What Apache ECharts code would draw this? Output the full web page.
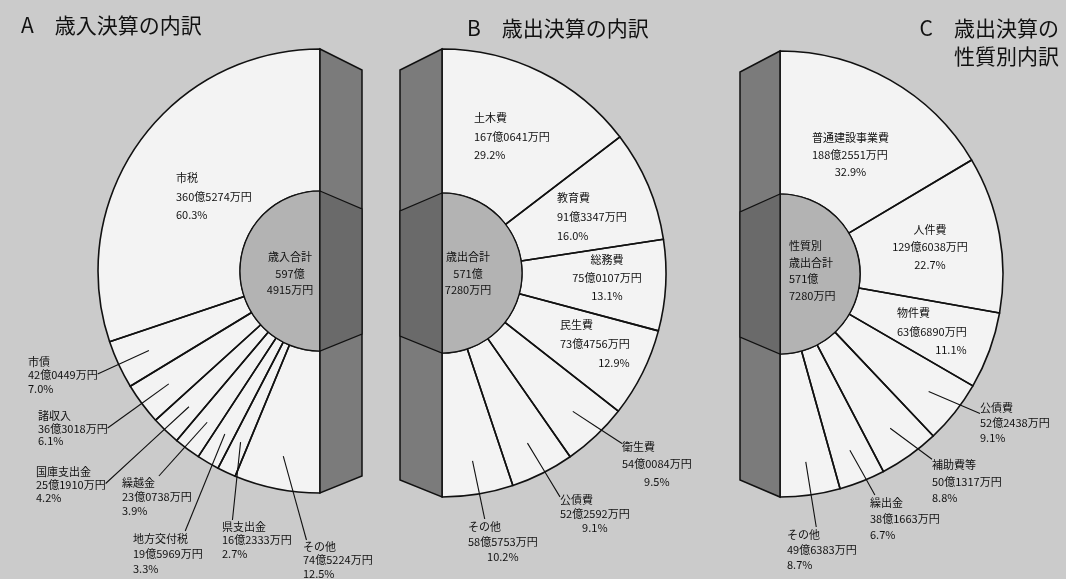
<!DOCTYPE html>
<html>
<head>
<meta charset="utf-8">
<title>決算の内訳</title>
<script src="https://cdn.jsdelivr.net/npm/echarts@6.0.0/dist/echarts.min.js"></script>
<style>
    html, body { margin: 0; padding: 0; background: #cbcbcb; }
    #main { width: 1066px; height: 579px; }
</style>
</head>
<body>
<div id="main"></div>
<script>
var FONT = '"Noto Sans CJK JP", "Noto Sans", sans-serif';

// A 歳入決算 (単位: 万円)
var titleA = 'A\u3000歳入決算の内訳';
var innerA = '歳入合計';
var namesA = ['市税', '市債', '諸収入', '国庫支出金', '繰越金', '地方交付税', '県支出金', 'その他'];
var valuesA = [3605274, 420449, 363018, 251910, 230738, 195969, 162333, 745224];
var pctA = ['60.3', '7.0', '6.1', '4.2', '3.9', '3.3', '2.7', '12.5'];
var totalA = 5974915;

// B 歳出決算
var titleB = 'B\u3000歳出決算の内訳';
var innerB = '歳出合計';
var namesB = ['土木費', '教育費', '総務費', '民生費', '衛生費', '公債費', 'その他'];
var valuesB = [1670641, 913347, 750107, 734756, 540084, 522592, 585753];
var pctB = ['29.2', '16.0', '13.1', '12.9', '9.5', '9.1', '10.2'];
var totalB = 5717280;

// C 歳出決算の性質別
var titleC = 'C\u3000歳出決算の\n性質別内訳';
var innerC = '性質別\n歳出合計';
var namesC = ['普通建設事業費', '人件費', '物件費', '公債費', '補助費等', '繰出金', 'その他'];
var valuesC = [1882551, 1296038, 636890, 522438, 501317, 381663, 496383];
var pctC = ['32.9', '22.7', '11.1', '9.1', '8.8', '6.7', '8.7'];
var totalC = 5717280;

// 図の位置: 中心, 外半径, 内半径, 側面の幅
var boxA = {cx: 320, cy: 271, R: 222, r: 80, d: 42};
var boxB = {cx: 442, cy: 273, R: 224, r: 80, d: -42};
var boxC = {cx: 780, cy: 274, R: 223, r: 80, d: -40};

// ラベル配置: x, y(上端), align, 行ごとの揃え, 行高, 引出線の終点(割合)
var layA = [
    [176, 169, 'left', 'lll', 18.5],
    [28, 355, 'left', 'lll', 13.5, 1, 0.5],
    [38, 410, 'left', 'lll', 12.5, 1, 0.5],
    [36, 465, 'left', 'lll', 13, 1, 0.5],
    [122, 476, 'left', 'lll', 14, 0.53, 0],
    [133, 531, 'left', 'lll', 15, 0.75, 0],
    [222, 520, 'left', 'lll', 13.5, 0.15, 0],
    [303, 540, 'left', 'lll', 13.5, 0.05, 0]
];
var layB = [
    [474, 109, 'left', 'lll', 18.5],
    [557, 188, 'left', 'lll', 19],
    [607, 251, 'center', 'ccc', 18],
    [560, 315, 'left', 'llr', 19],
    [622, 438, 'left', 'llc', 17.5, 0, 0.12],
    [560, 493, 'left', 'llc', 14, 0, 0.1],
    [468, 519, 'left', 'llc', 15, 0.24, 0]
];
var layC = [
    [812, 129, 'left', 'llc', 17],
    [930, 221, 'center', 'ccc', 17.5],
    [897, 304, 'left', 'llr', 18.5],
    [980, 400, 'left', 'lll', 15, 0, 0.33],
    [932, 457, 'left', 'lll', 16.5, 0, 0.05],
    [870, 495, 'left', 'lll', 16, 0.07, 0],
    [787, 527, 'left', 'lll', 15, 0.42, 0]
];
var layInA = [290, 249, 'center', 'ccc', 16.5];
var layInB = [468, 249, 'center', 'ccc', 16.5];
var layInC = [789, 238, 'left', 'llll', 16.5];

function yen(v) {
    var man = String(v % 10000);
    while (man.length < 4) man = '0' + man;
    return [Math.floor(v / 10000) + '億', man + '万円'];
}

function tagText(lines, codes) {
    return lines.map(function (t, i) {
        return '{' + codes.charAt(i) + '|' + t + '}';
    }).join('\n');
}

function richStyle(lh) {
    var base = {fontSize: 11, fontFamily: FONT, color: '#111', lineHeight: lh};
    return {
        l: Object.assign({align: 'left'}, base),
        c: Object.assign({align: 'center'}, base),
        r: Object.assign({align: 'right'}, base)
    };
}

function placeLabel(box, lay) {
    return function (p) {
        var L = lay[p.dataIndex];
        var w = p.labelRect.width, h = p.labelRect.height;
        var res = {x: L[0], y: L[1], align: L[2], verticalAlign: 'top'};
        if (L.length > 5 && p.labelLinePoints) {
            // 引出線は扇形の内側から始める
            var s = p.labelLinePoints[0];
            var dx = s[0] - box.cx, dy = s[1] - box.cy;
            var k = box.R * 0.85 / Math.sqrt(dx * dx + dy * dy);
            var start = [box.cx + dx * k, box.cy + dy * k];
            var x0 = L[2] === 'left' ? L[0] : (L[2] === 'center' ? L[0] - w / 2 : L[0] - w);
            var end = [x0 + L[5] * w, L[1] + L[6] * h];
            res.labelLinePoints = [start, [(start[0] + end[0]) / 2, (start[1] + end[1]) / 2], end];
        }
        return res;
    };
}

function pieBase(box, radius, left) {
    return {
        type: 'pie',
        center: [box.cx, box.cy],
        radius: radius,
        startAngle: 90,
        endAngle: left ? 270 : -90,
        clockwise: !left,
        avoidLabelOverlap: false,
        animation: false,
        silent: true
    };
}

// 下地 (塗りだけ) と 枠線+ラベル の2層にして、引出線を扇形の上に出す
function outerPies(box, names, values, pcts, lay, left) {
    var fill = Object.assign(pieBase(box, [box.r, box.R], left), {
        z: 1,
        itemStyle: {color: '#f3f3f3', borderWidth: 0},
        label: {show: false},
        labelLine: {show: false},
        data: names.map(function (n, i) { return {name: n, value: values[i]}; })
    });
    var data = names.map(function (n, i) {
        var L = lay[i];
        var y = yen(values[i]);
        return {
            name: n,
            value: values[i],
            label: {
                formatter: tagText([n, y[0] + y[1], pcts[i] + '%'], L[3]),
                rich: richStyle(L[4])
            },
            labelLine: {show: L.length > 5}
        };
    });
    var lines = Object.assign(pieBase(box, [box.r, box.R], left), {
        z: 2,
        itemStyle: {color: 'rgba(0,0,0,0)', borderColor: '#111', borderWidth: 1.6},
        label: {position: 'outside', fontSize: 11, fontFamily: FONT, color: '#111'},
        labelLine: {show: true, length: 8, length2: 8, lineStyle: {color: '#111', width: 1.1}},
        labelLayout: placeLabel(box, lay),
        data: data
    });
    return [fill, lines];
}

function innerPie(box, name, total, lay, left) {
    var y = yen(total);
    var lines = name.split('\n').concat(y);
    return Object.assign(pieBase(box, [0, box.r], left), {
        z: 3,
        itemStyle: {color: '#b3b3b3', borderColor: '#111', borderWidth: 1.2},
        label: {
            position: 'inside',
            formatter: tagText(lines, lay[3]),
            rich: richStyle(lay[4])
        },
        labelLine: {show: false},
        labelLayout: function () {
            return {x: lay[0], y: lay[1], align: lay[2], verticalAlign: 'top'};
        },
        data: [{name: name, value: total}]
    });
}

// 立体の側面 (切り口)
function band(box) {
    var x0 = box.cx, x1 = box.cx + box.d;
    return [{
        type: 'polygon', z: 100,
        shape: {points: [[x0, box.cy - box.R], [x1, box.cy - box.R + 21], [x1, box.cy + box.R - 17], [x0, box.cy + box.R]]},
        style: {fill: '#7b7b7b', stroke: '#111', lineWidth: 1.5}
    }, {
        type: 'polygon', z: 101,
        shape: {points: [[x0, box.cy - box.r], [x1, box.cy - box.r + 18], [x1, box.cy + box.r - 17], [x0, box.cy + box.r]]},
        style: {fill: '#6a6a6a', stroke: '#111', lineWidth: 1.2}
    }];
}

var titleStyle = {fontSize: 21, fontWeight: 'normal', fontFamily: FONT, color: '#111', lineHeight: 28};

var chart = echarts.init(document.getElementById('main'));
var option = {
    backgroundColor: '#cbcbcb',
    animation: false,
    title: [
        {text: titleA, left: 21, top: 11, padding: 0, textStyle: titleStyle},
        {text: titleB, left: 467, top: 14, padding: 0, textStyle: titleStyle},
        {text: titleC, left: 1059, top: 14, padding: 0, textAlign: 'right', textStyle: titleStyle}
    ],
    graphic: band(boxA).concat(band(boxB), band(boxC)),
    series: [].concat(
        outerPies(boxA, namesA, valuesA, pctA, layA, true),
        innerPie(boxA, innerA, totalA, layInA, true),
        outerPies(boxB, namesB, valuesB, pctB, layB, false),
        innerPie(boxB, innerB, totalB, layInB, false),
        outerPies(boxC, namesC, valuesC, pctC, layC, false),
        innerPie(boxC, innerC, totalC, layInC, false)
    )
};
chart.setOption(option);
</script>
</body>
</html>
